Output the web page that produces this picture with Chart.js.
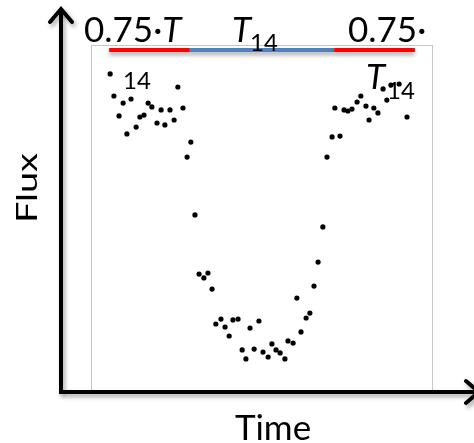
<!DOCTYPE html>
<html><head><meta charset="utf-8">
<script src="https://cdn.jsdelivr.net/npm/chart.js@4.4.1/dist/chart.umd.min.js"></script>
<style>html,body{margin:0;padding:0;background:#fff;}#wrap{width:474px;height:443px;position:relative;}</style>
</head><body><div id="wrap"><canvas id="c"></canvas></div>
<script>
// Time (arbitrary hours) and relative flux
const time = [0.56,0.67,0.82,0.94,1.05,1.17,1.32,1.43,1.55,1.67,1.78,1.93,2.05,2.16,2.31,2.43,2.54,2.69,
  2.81,2.92,3.04,3.16,3.30,3.42,3.54,3.65,3.80,3.92,4.04,4.15,4.30,4.42,4.53,4.65,4.77,4.91,5.03,5.18,5.29,
  5.41,5.53,5.67,5.76,5.91,6.02,6.14,6.29,6.40,6.52,6.64,6.78,6.90,7.05,7.13,7.28,7.40,7.51,7.63,7.78,7.89,
  8.04,8.13,8.27,8.39,8.54,8.65,8.77,9.01,9.24];
const flux = [1.00207,1.0006,0.99927,1.00013,0.99807,1.0004,0.99853,0.9992,0.99933,1.00013,0.99987,0.9988,
  0.99967,0.99867,0.99967,0.999,1.0012,0.9998,0.99653,0.99753,0.99267,0.98873,0.98847,0.9888,0.98773,0.9854,
  0.98573,0.9852,0.9846,0.98567,0.98573,0.98367,0.98307,0.98513,0.98373,0.9856,0.98353,0.9832,0.98407,0.98367,
  0.98347,0.98307,0.98427,0.98413,0.98713,0.98487,0.9858,0.98613,0.98793,0.98953,0.99187,0.99653,0.99787,
  0.9998,0.99793,0.99967,0.9996,0.99973,1.0002,1.0006,0.99993,0.999,0.9998,0.99947,1.00107,1.00033,1.00133,
  1.0014,0.9992];
// Duration bar segments (time start/end) and level
const segStart = [0.53, 2.89, 7.11];
const segEnd   = [2.89, 7.11, 9.47];
const segKind  = ['ingress','total','egress'];
const segLevel = 1.00367;
const xLabel = 'Time';
const yLabel = 'Flux';

const FONT = 'Lato, "Open Sans", sans-serif';
const deco = {
  id:'deco',
  beforeDatasetsDraw(chart){
    const {ctx, chartArea:a, scales:{x,y}} = chart;
    ctx.save();
    ctx.strokeStyle='#c6c6c6'; ctx.lineWidth=1;
    ctx.strokeRect(a.left+0.5, a.top+0.5, a.right-a.left-1, 392-a.top);
    const yy = y.getPixelForValue(segLevel);
    ctx.lineWidth=4; ctx.lineCap='butt';
    ctx.shadowColor='rgba(0,0,0,0.35)'; ctx.shadowOffsetY=3; ctx.shadowBlur=4;
    segStart.forEach((s,i)=>{
      ctx.strokeStyle = segKind[i]==='total' ? '#4f81bd' : '#ff0000';
      ctx.beginPath(); ctx.moveTo(x.getPixelForValue(s), yy); ctx.lineTo(x.getPixelForValue(segEnd[i]), yy); ctx.stroke();
    });
    ctx.restore();
  },
  afterDraw(chart){
    const {ctx} = chart;
    ctx.save();
    ctx.shadowColor='rgba(0,0,0,0.35)'; ctx.shadowOffsetX=2; ctx.shadowOffsetY=3; ctx.shadowBlur=4;
    ctx.strokeStyle='#000'; ctx.lineWidth=4; ctx.lineCap='butt'; ctx.lineJoin='miter';
    ctx.beginPath(); ctx.moveTo(61,392); ctx.lineTo(61,10); ctx.stroke();
    ctx.beginPath(); ctx.moveTo(59,392); ctx.lineTo(476,392); ctx.stroke();
    ctx.lineCap='round';
    ctx.beginPath(); ctx.moveTo(50,22); ctx.lineTo(61,9); ctx.lineTo(72,22); ctx.stroke();
    ctx.beginPath(); ctx.moveTo(466,381); ctx.lineTo(479,392); ctx.lineTo(466,403); ctx.stroke();
    ctx.restore();
    ctx.save();
    ctx.fillStyle='#000'; ctx.textBaseline='alphabetic';
    const big = '35px '+FONT, itBig = 'italic 35px '+FONT, sub = '24px '+FONT;
    ctx.font=big; ctx.fillText('0.75·',84,42);
    let w = ctx.measureText('0.75·').width;
    ctx.font=itBig; ctx.fillText('T',84+w,42);
    ctx.font=sub; ctx.fillText('14',123,89);
    ctx.font=itBig; ctx.fillText('T',232,42);
    ctx.font=sub; ctx.fillText('14',250,51);
    ctx.font=big; ctx.fillText('0.75·',348,42);
    ctx.font=itBig; ctx.fillText('T',366,89);
    ctx.font=sub; ctx.fillText('14',387,99);
    ctx.font='35px '+FONT; ctx.textAlign='center';
    ctx.fillText(xLabel,273,440);
    ctx.save(); ctx.translate(37,188); ctx.rotate(-Math.PI/2); ctx.scale(1.35,1);
    ctx.font='28px '+FONT; ctx.fillText(yLabel,0,0); ctx.restore();
    ctx.restore();
  }
};

new Chart(document.getElementById('c'), {
  type:'scatter',
  data:{ datasets:[{ data: time.map((t,i)=>({x:t,y:flux[i]})), backgroundColor:'#000', borderColor:'#000', pointRadius:2.6, borderWidth:0 }]},
  options:{
    responsive:true, maintainAspectRatio:false, animation:false,
    layout:{padding:{left:91,right:41,top:45,bottom:53}},
    plugins:{legend:{display:false}, tooltip:{enabled:false}},
    scales:{
      x:{type:'linear', min:0, max:10, display:false},
      y:{type:'linear', min:0.981, max:1.004, display:false}
    }
  },
  plugins:[deco]
});
</script></body></html>
